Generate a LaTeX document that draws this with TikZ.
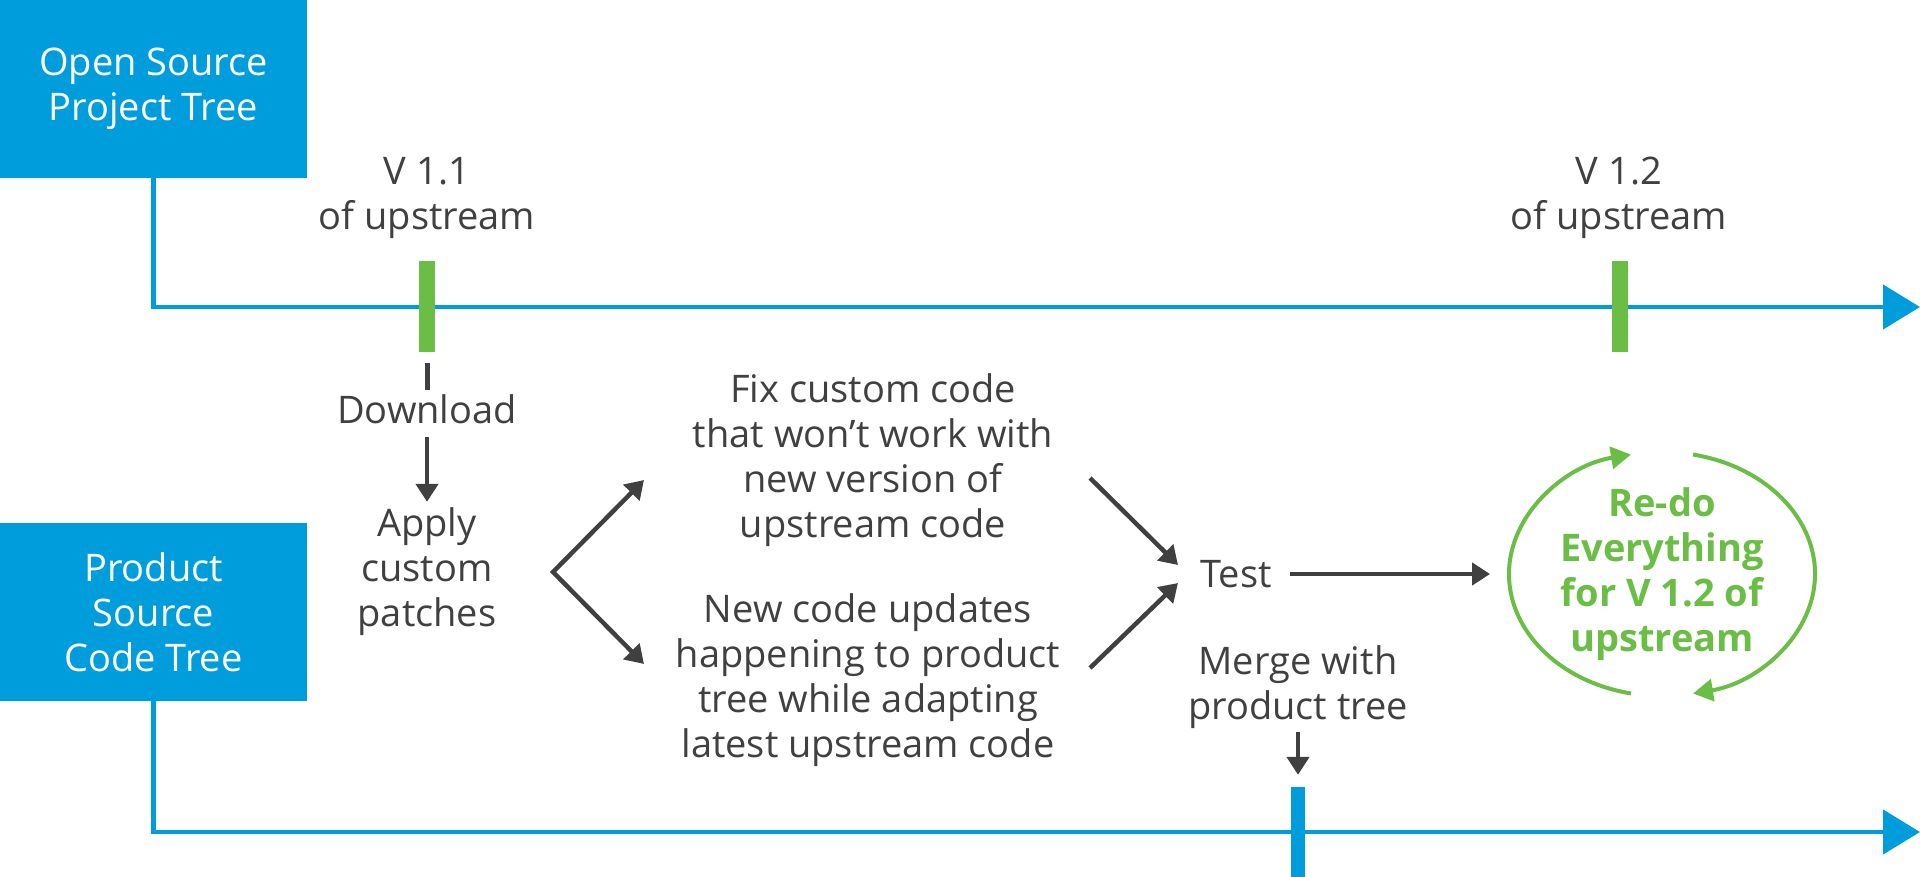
\documentclass[tikz,border=0pt]{standalone}
\usepackage{fontspec}
\setmainfont{Open Sans}
\usetikzlibrary{arrows.meta}
\definecolor{azul}{HTML}{009DDC}
\definecolor{verde}{HTML}{6BBE45}
\definecolor{gris}{HTML}{404040}

\begin{document}
\begin{tikzpicture}[x=1pt, y=1pt,
  caja/.style={fill=azul, text=white, minimum width=307pt, minimum height=178pt, inner sep=0pt, align=center, font=\fontsize{38}{45}\selectfont},
  texto/.style={text=gris, inner sep=0pt, align=center, font=\fontsize{38}{45}\selectfont},
  linea/.style={azul, line width=4.5pt, -{Triangle[length=37pt, width=44pt]}},
  marca/.style={inner sep=0pt, minimum width=16pt, minimum height=91pt},
  flecha/.style={gris, line width=4.5pt, -{Triangle[length=18pt, width=22pt]}},
  ciclo/.style={verde, line width=4pt, -{Triangle[length=20pt, width=22pt]}}]
\useasboundingbox (0,0) rectangle (1920,-877);

% Las dos ramas: cajas azules y sus lineas de tiempo
\node[caja] (OS) at (153.5,-89) {Open Source\\Project Tree};
\node[caja] (PS) at (153.5,-612) {Product\\Source\\Code Tree};
\coordinate (finOS) at (1920,-307);
\coordinate (finPS) at (1920,-832);
\draw[linea] (OS.south) |- (finOS);
\draw[linea] (PS.south) |- (finPS);

% Marcas de version sobre las lineas
\node[marca, fill=verde] (T1) at (427,-306.5) {};
\node[marca, fill=verde] (T2) at (1620,-306.5) {};
\node[marca, fill=azul, minimum width=14pt, minimum height=90pt] (T3) at (1298,-832) {};
\node[texto] (V1) at (427,-198) {V 1.1\\of upstream};
\node[texto] (V2) at (1619,-198) {V 1.2\\of upstream};

% Descarga y parches
\node[texto] (D) at (427,-409) {Download};
\node[texto] (AP) at (427,-572) {Apply\\custom\\patches};
\draw[gris, line width=5pt, shorten <=11pt, shorten >=4pt] (T1.south) -- (D.north);
\draw[flecha, shorten <=13pt, shorten >=6pt] (D.south) -- (AP.north);

% Los dos caminos en paralelo
\node[texto] (FX) at (873,-460) {Fix custom code\\that won’t work with\\new version of\\upstream code};
\node[texto] (NC) at (868,-680) {New code updates\\happening to product\\tree while adapting\\latest upstream code};
\coordinate (V) at (553,-572);
\coordinate (f1) at (644,-480);
\coordinate (f2) at (644,-664);
\draw[gris, line width=4.5pt, {Triangle[length=18pt, width=22pt]}-{Triangle[length=18pt, width=22pt]}] (f1) -- (V) -- (f2);

% Prueba y merge
\node[texto] (TS) at (1236,-574) {Test};
\coordinate (g1) at (1090,-478);
\coordinate (h1) at (1178,-565);
\coordinate (g2) at (1090,-668);
\coordinate (h2) at (1178,-583);
\draw[flecha] (g1) -- (h1);
\draw[flecha] (g2) -- (h2);
\node[texto] (MG) at (1298,-687) {Merge with\\product tree};
\draw[flecha, shorten <=3pt, shorten >=12pt] (MG.south) -- (T3.north);

% Se repite todo
\node[texto, text=verde, font=\bfseries\fontsize{38}{45}\selectfont] (RD) at (1662,-574) {Re-do\\Everything\\for V 1.2 of\\upstream};
\coordinate (E) at (1490,-574);
\draw[flecha, shorten <=18pt] (TS.east) -- (E);
\draw[ciclo] (RD.center) ++(258.3:153pt and 122pt) arc[start angle=258.3, end angle=101.7, x radius=153pt, y radius=122pt];
\draw[ciclo] (RD.center) ++(78.3:153pt and 122pt) arc[start angle=78.3, end angle=-78.3, x radius=153pt, y radius=122pt];
\end{tikzpicture}
\end{document}
